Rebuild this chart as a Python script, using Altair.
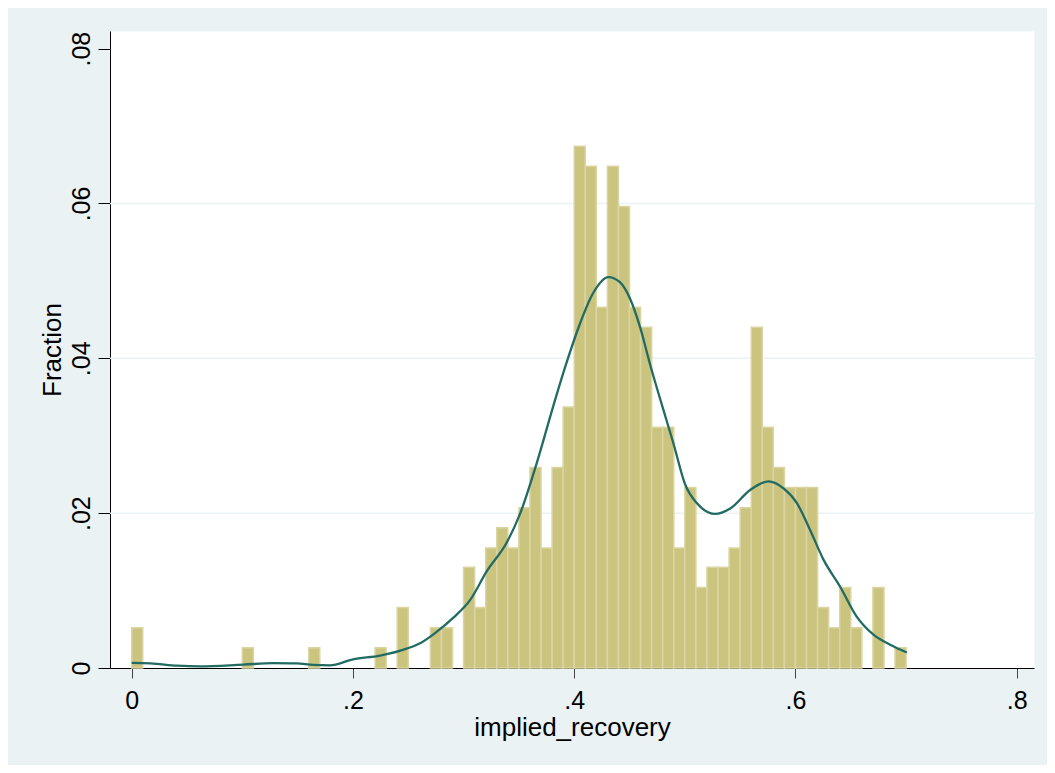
import altair as alt
import pandas as pd

# Histogram bins (left edges) and fractions
bin_start = [0.00, 0.10, 0.16, 0.22, 0.24, 0.27, 0.28, 0.30, 0.31, 0.32,
             0.33, 0.34, 0.35, 0.36, 0.37, 0.38, 0.39, 0.40, 0.41, 0.42,
             0.43, 0.44, 0.45, 0.46, 0.47, 0.48, 0.49, 0.50, 0.51, 0.52,
             0.53, 0.54, 0.55, 0.56, 0.57, 0.58, 0.59, 0.60, 0.61, 0.62,
             0.63, 0.64, 0.65, 0.67, 0.69]
fraction = [0.0052, 0.0026, 0.0026, 0.0026, 0.0078, 0.0052, 0.0052, 0.0130, 0.0078, 0.0155,
            0.0181, 0.0155, 0.0207, 0.0259, 0.0155, 0.0259, 0.0337, 0.0674, 0.0648, 0.0466,
            0.0648, 0.0596, 0.0466, 0.0440, 0.0311, 0.0311, 0.0155, 0.0233, 0.0104, 0.0130,
            0.0130, 0.0155, 0.0207, 0.0440, 0.0311, 0.0259, 0.0233, 0.0233, 0.0233, 0.0078,
            0.0052, 0.0104, 0.0052, 0.0104, 0.0026]
bin_width = 0.01

# Kernel density curve (scaled to fraction)
kd_x = [0.000, 0.017, 0.041, 0.062, 0.101, 0.128, 0.149, 0.164, 0.179, 0.200,
        0.2245, 0.2486, 0.2607, 0.275, 0.2908, 0.306, 0.321, 0.339, 0.351, 0.366,
        0.381, 0.393, 0.405, 0.417, 0.431, 0.4415, 0.4505, 0.4596, 0.4686, 0.4807,
        0.4897, 0.5003, 0.5108, 0.5274, 0.541, 0.559, 0.5756, 0.5892, 0.6013, 0.6133,
        0.6253, 0.6404, 0.6555, 0.6705, 0.6856, 0.7007]
kd_y = [0.00066, 0.0006, 0.0003, 0.0002, 0.00044, 0.00062, 0.0006, 0.0004, 0.00035, 0.00112,
        0.0016, 0.0025, 0.0032, 0.0046, 0.0065, 0.0088, 0.0125, 0.0162, 0.0199, 0.0264,
        0.0338, 0.0394, 0.0444, 0.0484, 0.0505, 0.0498, 0.0477, 0.0440, 0.0392, 0.0333,
        0.0290, 0.0237, 0.0213, 0.0199, 0.0206, 0.0230, 0.0241, 0.0232, 0.0213, 0.0178,
        0.0140, 0.0105, 0.0066, 0.0043, 0.0030, 0.0020]

x_ticks = [0, 0.2, 0.4, 0.6, 0.8]
y_ticks = [0, 0.02, 0.04, 0.06, 0.08]
y_grid = [0.02, 0.04, 0.06]

FONT = "Liberation Sans, Arial, Helvetica, sans-serif"
BG = "#EAF2F3"

bars_df = pd.DataFrame({"start": bin_start, "fraction": fraction})
bars_df["end"] = bars_df["start"] + bin_width
kd_df = pd.DataFrame({"x": kd_x, "y": kd_y})
grid_df = pd.DataFrame({"g": y_grid})

xscale = alt.Scale(domain=[-0.0196, 0.8156], nice=False, zero=False)
yscale = alt.Scale(domain=[0, 0.08228], nice=False, zero=True)

xaxis = alt.Axis(
    values=x_ticks,
    labelExpr="datum.value == 0 ? '0' : slice(format(datum.value, '.1f'), 1)",
    title="implied_recovery",
    grid=False,
    tickSize=10,
    tickColor="#444444",
    domainColor="#000000",
    labelPadding=10,
    labelFontSize=25,
    labelColor="#000000",
    titleFontSize=26,
    titleFontWeight="normal",
    titleColor="#000000",
    titleBaseline="alphabetic",
    titleY=67,
    labelFont=FONT,
    titleFont=FONT,
)

yaxis = alt.Axis(
    values=y_ticks,
    labelExpr="datum.value == 0 ? '0' : slice(format(datum.value, '.2f'), 1)",
    title="Fraction",
    grid=False,
    tickSize=12,
    tickColor="#000000",
    domainColor="#000000",
    labelAngle=270,
    labelAlign="center",
    labelBaseline="alphabetic",
    labelPadding=9,
    labelFontSize=25,
    labelColor="#000000",
    titleFontSize=26,
    titleFontWeight="normal",
    titleColor="#000000",
    titleAngle=270,
    titleAlign="center",
    titleBaseline="alphabetic",
    titleX=-50,
    titleY=318.5,
    labelFont=FONT,
    titleFont=FONT,
)

grid = alt.Chart(grid_df).mark_rule(color=BG, strokeWidth=1.5).encode(
    y=alt.Y("g:Q", scale=yscale, axis=yaxis)
)

bars = alt.Chart(bars_df).mark_bar(
    color="#CBC47F", stroke="#DAD5A3", strokeWidth=1.5
).encode(
    x=alt.X("start:Q", scale=xscale, axis=xaxis),
    x2="end:Q",
    y=alt.Y("fraction:Q", scale=yscale, axis=yaxis),
    y2=alt.datum(0),
)

line = alt.Chart(kd_df).mark_line(
    color="#226B63", strokeWidth=2.3, interpolate="monotone"
).encode(
    x=alt.X("x:Q", scale=xscale, axis=xaxis),
    y=alt.Y("y:Q", scale=yscale, axis=yaxis),
)

chart = alt.layer(grid, bars, line).properties(
    width=924,
    height=637,
    background=BG,
    padding={"left": 102, "top": 23, "right": 13, "bottom": 97},
    autosize=alt.AutoSizeParams(type="none"),
).configure_view(
    fill="white",
    stroke="transparent",
)

chart.save("out.html", embed_options={"renderer": "svg", "actions": False})
